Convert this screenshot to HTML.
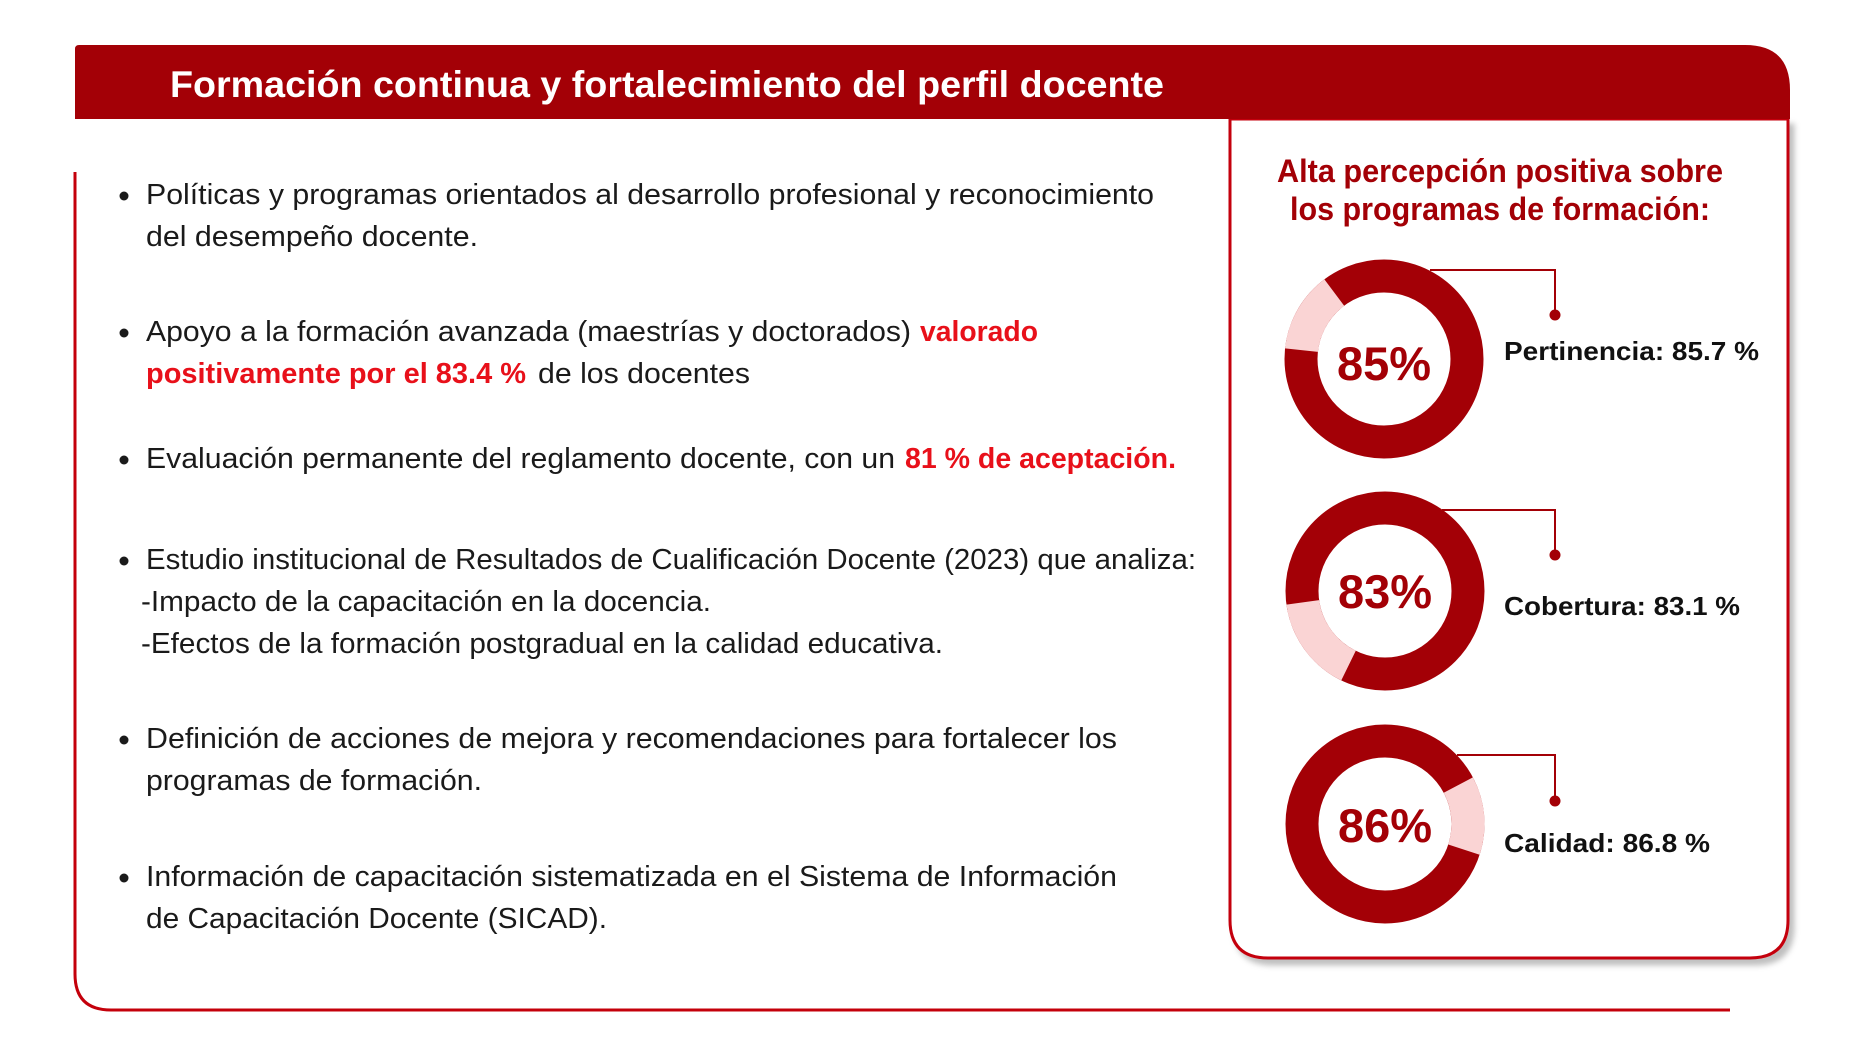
<!DOCTYPE html>
<html><head><meta charset="utf-8"><style>
html,body{margin:0;padding:0;background:#fff;}
svg{display:block;}
text{font-family:"Liberation Sans",sans-serif;}
.b{font-size:29px;fill:#1a1a1a;}
.r{font-size:29px;fill:#e8101a;font-weight:bold;}
.l{font-size:26px;fill:#111;font-weight:bold;}
.p{font-size:47px;fill:#a30006;font-weight:bold;}
</style></head><body>
<svg width="1865" height="1058" viewBox="0 0 1865 1058" xmlns="http://www.w3.org/2000/svg">
<defs><filter id="sh" x="-5%" y="-5%" width="115%" height="115%"><feDropShadow dx="5" dy="6" stdDeviation="3" flood-color="#000" flood-opacity="0.25"/></filter></defs>
<path d="M75 172 V974 Q75 1010 111 1010 H1730" fill="none" stroke="#c4000b" stroke-width="3"/>
<path d="M1230 119 V920 Q1230 958 1268 958 H1750 Q1788 958 1788 920 V119 Z" fill="#fff" stroke="#c4000b" stroke-width="3" filter="url(#sh)"/>
<path d="M75 45 H1745 Q1790 45 1790 90 V119 H75 V49 Q75 45 79 45 Z" fill="#a30006"/>
<text x="170" y="97" font-size="37" font-weight="bold" fill="#fff" textLength="994" lengthAdjust="spacingAndGlyphs">Formación continua y fortalecimiento del perfil docente</text>
<g fill="#1a1a1a">
<circle cx="124" cy="196" r="4.5"/><circle cx="124" cy="333" r="4.5"/><circle cx="124" cy="460" r="4.5"/><circle cx="124" cy="561" r="4.5"/><circle cx="124" cy="740" r="4.5"/><circle cx="124" cy="878" r="4.5"/>
</g>
<text class="b" x="146" y="204" textLength="1008" lengthAdjust="spacingAndGlyphs">Políticas y programas orientados al desarrollo profesional y reconocimiento</text>
<text class="b" x="146" y="246" textLength="332" lengthAdjust="spacingAndGlyphs">del desempeño docente.</text>
<text class="b" x="146" y="341" textLength="765" lengthAdjust="spacingAndGlyphs">Apoyo a la formación avanzada (maestrías y doctorados)</text>
<text class="r" x="920" y="341" textLength="118" lengthAdjust="spacingAndGlyphs">valorado</text>
<text class="r" x="146" y="383" textLength="380" lengthAdjust="spacingAndGlyphs">positivamente por el 83.4 %</text>
<text class="b" x="538" y="383" textLength="212" lengthAdjust="spacingAndGlyphs">de los docentes</text>
<text class="b" x="146" y="468" textLength="749" lengthAdjust="spacingAndGlyphs">Evaluación permanente del reglamento docente, con un</text>
<text class="r" x="905" y="468" textLength="271" lengthAdjust="spacingAndGlyphs">81 % de aceptación.</text>
<text class="b" x="146" y="569" textLength="1050" lengthAdjust="spacingAndGlyphs">Estudio institucional de Resultados de Cualificación Docente (2023) que analiza:</text>
<text class="b" x="141" y="611" textLength="570" lengthAdjust="spacingAndGlyphs">-Impacto de la capacitación en la docencia.</text>
<text class="b" x="141" y="653" textLength="802" lengthAdjust="spacingAndGlyphs">-Efectos de la formación postgradual en la calidad educativa.</text>
<text class="b" x="146" y="748" textLength="971" lengthAdjust="spacingAndGlyphs">Definición de acciones de mejora y recomendaciones para fortalecer los</text>
<text class="b" x="146" y="790" textLength="336" lengthAdjust="spacingAndGlyphs">programas de formación.</text>
<text class="b" x="146" y="886" textLength="971" lengthAdjust="spacingAndGlyphs">Información de capacitación sistematizada en el Sistema de Información</text>
<text class="b" x="146" y="928" textLength="461" lengthAdjust="spacingAndGlyphs">de Capacitación Docente (SICAD).</text>
<text x="1500" y="182" text-anchor="middle" font-size="32" font-weight="bold" fill="#a30006" textLength="446" lengthAdjust="spacingAndGlyphs">Alta percepción positiva sobre</text>
<text x="1500" y="220" text-anchor="middle" font-size="32" font-weight="bold" fill="#a30006" textLength="420" lengthAdjust="spacingAndGlyphs">los programas de formación:</text>
<g transform="translate(1384 359)">
<circle r="83" fill="none" stroke="#a30006" stroke-width="33"/>
<circle r="83" fill="none" stroke="#fad4d4" stroke-width="33" transform="rotate(-90)" stroke-dasharray="68.1 600" stroke-dashoffset="-399.9"/>
<text class="p" x="0" y="21" text-anchor="middle">85%</text>
</g>
<path d="M1430 270 H1555 V315" fill="none" stroke="#a30006" stroke-width="2"/><circle cx="1555" cy="315" r="5.5" fill="#a30006"/>
<text class="l" x="1504" y="360" textLength="255" lengthAdjust="spacingAndGlyphs">Pertinencia: 85.7 %</text>
<g transform="translate(1385 591)">
<circle r="83" fill="none" stroke="#a30006" stroke-width="33"/>
<circle r="83" fill="none" stroke="#fad4d4" stroke-width="33" transform="rotate(-90)" stroke-dasharray="81.1 600" stroke-dashoffset="-298.4"/>
<text class="p" x="0" y="17" text-anchor="middle">83%</text>
</g>
<path d="M1442 510 H1555 V555" fill="none" stroke="#a30006" stroke-width="2"/><circle cx="1555" cy="555" r="5.5" fill="#a30006"/>
<text class="l" x="1504" y="615" textLength="236" lengthAdjust="spacingAndGlyphs">Cobertura: 83.1 %</text>
<g transform="translate(1385 824)">
<circle r="83" fill="none" stroke="#a30006" stroke-width="33"/>
<circle r="83" fill="none" stroke="#fad4d4" stroke-width="33" transform="rotate(-90)" stroke-dasharray="66.6 600" stroke-dashoffset="-89.8"/>
<text class="p" x="0" y="18" text-anchor="middle">86%</text>
</g>
<path d="M1457 755 H1555 V801" fill="none" stroke="#a30006" stroke-width="2"/><circle cx="1555" cy="801" r="5.5" fill="#a30006"/>
<text class="l" x="1504" y="852" textLength="206" lengthAdjust="spacingAndGlyphs">Calidad: 86.8 %</text>
</svg>
</body></html>
